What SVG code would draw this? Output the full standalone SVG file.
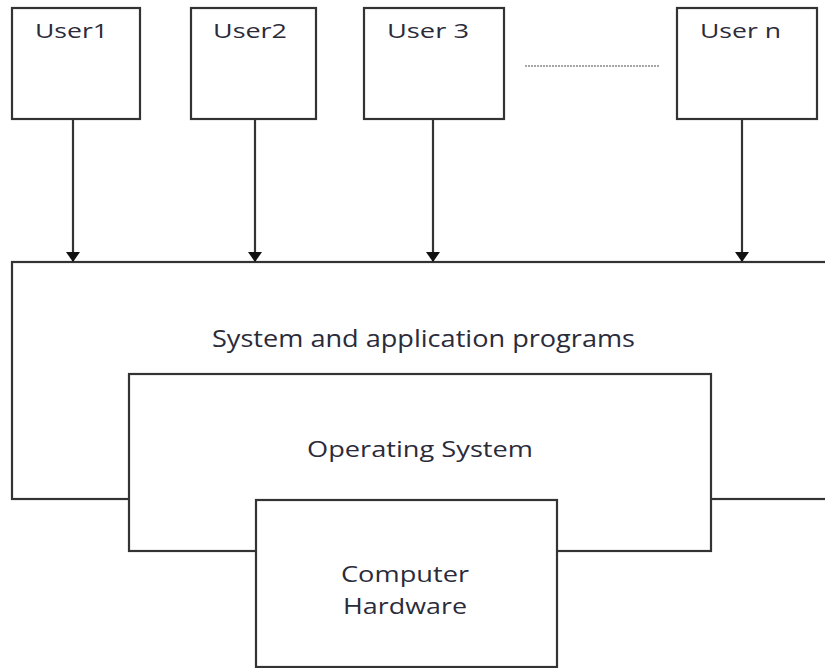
<svg xmlns="http://www.w3.org/2000/svg" width="825" height="668" viewBox="0 0 825 668">
<defs>
<style>
.box{fill:#fff;stroke:#333;stroke-width:2.2}
.lbl{font-family:"Open Sans","Liberation Sans",sans-serif;fill:#2b2b3a}
.conn{stroke:#333;stroke-width:2.2;fill:none}
</style>
<marker id="arr" viewBox="0 0 10 14" refX="10" refY="7" markerWidth="10" markerHeight="14" markerUnits="userSpaceOnUse" orient="auto">
<path d="M0,0 L10,7 L0,14 Z" fill="#111"/>
</marker>
</defs>
<rect width="825" height="668" fill="#fff"/>
<g id="apps">
<rect class="box" x="12" y="262" width="830" height="237"/>
<text class="lbl" x="212" y="347" font-size="24" textLength="423" lengthAdjust="spacingAndGlyphs">System and application programs</text>
</g>
<g id="os">
<rect class="box" x="129" y="374" width="582" height="177"/>
<text class="lbl" x="307" y="457" font-size="21" textLength="226" lengthAdjust="spacingAndGlyphs">Operating System</text>
</g>
<g id="hardware">
<rect class="box" x="256" y="500" width="301" height="167"/>
<text class="lbl" x="341" y="582" font-size="21" textLength="128" lengthAdjust="spacingAndGlyphs">Computer</text>
<text class="lbl" x="343" y="614" font-size="21" textLength="124" lengthAdjust="spacingAndGlyphs">Hardware</text>
</g>
<g id="user1">
<rect class="box" x="12" y="8" width="128" height="111"/>
<text class="lbl" x="35" y="38" font-size="20" textLength="73" lengthAdjust="spacingAndGlyphs">User1</text>
</g>
<g id="user2">
<rect class="box" x="191" y="8" width="125" height="111"/>
<text class="lbl" x="213" y="38" font-size="20" textLength="74" lengthAdjust="spacingAndGlyphs">User2</text>
</g>
<g id="user3">
<rect class="box" x="364" y="8" width="140" height="111"/>
<text class="lbl" x="387" y="38" font-size="20" textLength="82" lengthAdjust="spacingAndGlyphs">User 3</text>
</g>
<g id="usern">
<rect class="box" x="677" y="8" width="140" height="111"/>
<text class="lbl" x="700" y="38" font-size="20" textLength="81" lengthAdjust="spacingAndGlyphs">User n</text>
</g>
<g id="ellipsis">
<line x1="525" y1="66" x2="659" y2="66" stroke="#888" stroke-width="1.5" stroke-dasharray="2,1"/>
</g>
<g id="connectors">
<line class="conn" x1="73" y1="120" x2="73" y2="262" marker-end="url(#arr)"/>
<line class="conn" x1="255" y1="120" x2="255" y2="262" marker-end="url(#arr)"/>
<line class="conn" x1="433" y1="120" x2="433" y2="262" marker-end="url(#arr)"/>
<line class="conn" x1="742" y1="120" x2="742" y2="262" marker-end="url(#arr)"/>
</g>
</svg>
